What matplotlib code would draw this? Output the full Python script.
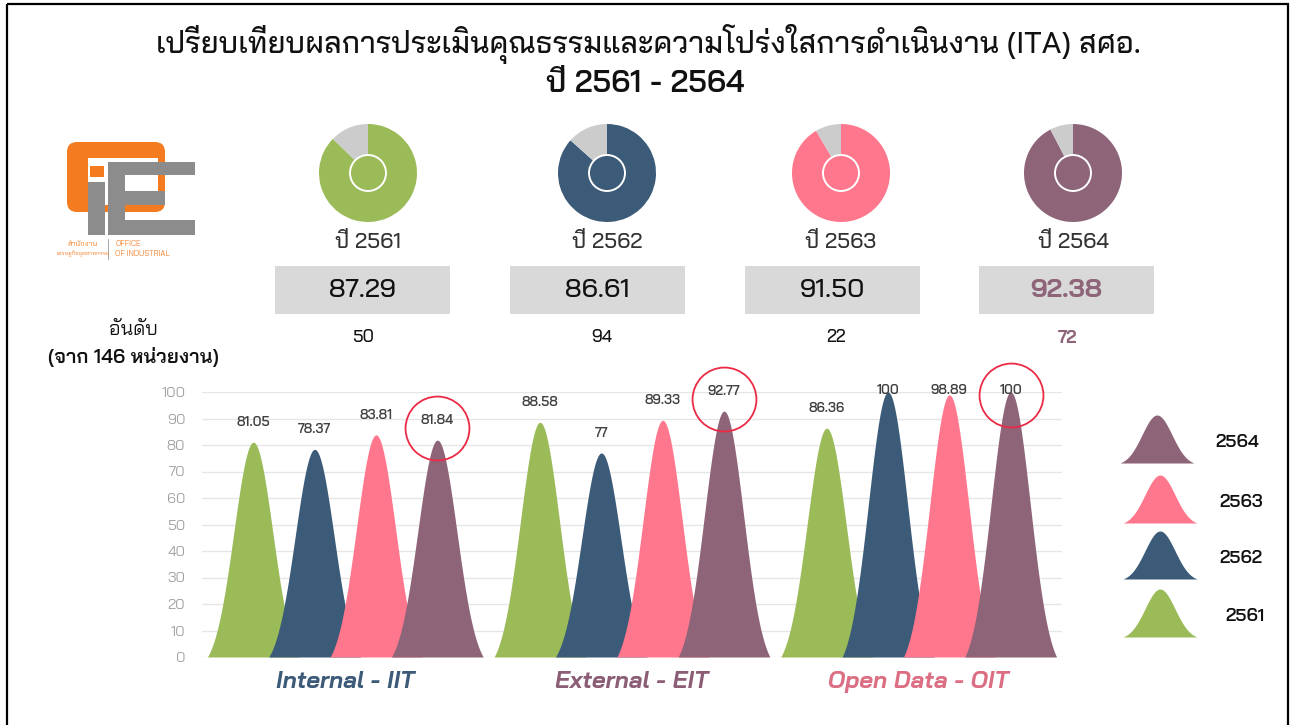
import numpy as np
import matplotlib
matplotlib.use('Agg')
import matplotlib.pyplot as plt
from matplotlib.patches import Rectangle, FancyBboxPatch, Circle

plt.rcParams['font.family'] = ['Bai Jamjuree', 'DejaVu Sans']

# ---- data ----
years = ['2561', '2562', '2563', '2564']
total_score = [87.29, 86.61, 91.50, 92.38]
rank = [50, 94, 22, 72]
categories = ['Internal - IIT', 'External - EIT', 'Open Data - OIT']
score_2561 = [81.05, 88.58, 86.36]
score_2562 = [78.37, 77, 100]
score_2563 = [83.81, 89.33, 98.89]
score_2564 = [81.84, 92.77, 100]
scores = [score_2561, score_2562, score_2563, score_2564]

colors = ['#9BBB59', '#3B5B78', '#FF778C', '#8E6479']
cat_colors = ['#3D5A78', '#8B5E76', '#DC6E84']
grey = '#CCCCCC'

W, H = 1291, 725
fig = plt.figure(figsize=(W / 100, H / 100), dpi=100)


def px_axes(x0, y0, x1, y1):
    # axes placed by pixel box (y measured from the top)
    return fig.add_axes([x0 / W, 1 - y1 / H, (x1 - x0) / W, (y1 - y0) / H])


bg = px_axes(0, 0, W, H)
bg.set_xlim(0, W)
bg.set_ylim(H, 0)
bg.axis('off')

# frame round the picture
bg.add_patch(Rectangle((7, 4), 1281, 740, fill=False, ec='black', lw=1.6))

# title
bg.text(648, 44, 'เปรียบเทียบผลการประเมินคุณธรรมและความโปร่งใสการดำเนินงาน (ITA) สศอ.',
        ha='center', va='center', fontsize=21.5, weight='medium', color='#111111')
bg.text(645, 84, 'ปี 2561 - 2564', ha='center', va='center', fontsize=22,
        weight='semibold', color='#111111')

# logo (rough)
orange = '#F47B20'
lgrey = '#8C8C8C'
bg.add_patch(FancyBboxPatch((67, 142), 98, 70, boxstyle='round,pad=0,rounding_size=10',
                            fc=orange, ec='none'))
bg.add_patch(Rectangle((88, 158), 70, 47, fc='white', ec='none'))
bg.add_patch(Rectangle((90, 166), 14, 11, fc=orange, ec='none'))
bg.add_patch(Rectangle((88, 182), 17, 53, fc=lgrey, ec='none'))
bg.add_patch(Rectangle((108, 162), 17, 73, fc=lgrey, ec='none'))
bg.add_patch(Rectangle((108, 162), 87, 13, fc=lgrey, ec='none'))
bg.add_patch(Rectangle((125, 191), 40, 14, fc=lgrey, ec='none'))
bg.add_patch(Rectangle((108, 220), 87, 15, fc=lgrey, ec='none'))
bg.text(83, 244, 'สำนักงาน', ha='center', va='center', fontsize=5.5, color=orange)
bg.text(83, 254, 'เศรษฐกิจอุตสาหกรรม', ha='center', va='center', fontsize=4.2, color=orange)
bg.plot([108, 108], [239, 259], color='#999999', lw=0.6)
bg.text(115, 244, 'OFFICE', ha='left', va='center', fontsize=5.5, color=orange)
bg.text(115, 254, 'OF INDUSTRIAL', ha='left', va='center', fontsize=5.5, color=orange)

# rank caption
bg.text(133, 330, 'อันดับ', ha='center', va='center', fontsize=14, color='#111111')
bg.text(133, 357, '(จาก 146 หน่วยงาน)', ha='center', va='center', fontsize=14,
        weight='semibold', color='#111111')

# donuts, year, score boxes, rank
donut_x = [368, 607, 841, 1073]
box_x = [275, 510, 745, 979]
for i, yr in enumerate(years):
    cx = donut_x[i]
    dax = px_axes(cx - 50, 123, cx + 50, 223)
    dax.pie([total_score[i], 100 - total_score[i]], colors=[colors[i], grey],
            startangle=90, counterclock=False, radius=0.98,
            wedgeprops=dict(linewidth=0))
    dax.add_patch(Circle((0, 0), 0.36, fc=colors[i], ec='white', lw=1.4, zorder=5))
    dax.set_xlim(-1, 1)
    dax.set_ylim(-1, 1)
    dax.set_aspect('equal')
    dax.axis('off')

    bg.text(cx, 242, 'ปี ' + yr, ha='center', va='center', fontsize=15.5,
            weight='medium', color='#333333')
    bg.add_patch(Rectangle((box_x[i], 266), 175, 48, fc='#D9D9D9', ec='none'))
    last = i == len(years) - 1
    bg.text(box_x[i] + 87.5, 290, f'{total_score[i]:.2f}', ha='center', va='center',
            fontsize=19, weight='bold' if last else 'medium',
            color=colors[3] if last else '#111111')
    bg.text(cx - 5, 338, str(rank[i]), ha='center', va='center', fontsize=12.5,
            weight='bold' if last else 'medium',
            color=colors[3] if last else '#111111')

# ---- peak chart ----
ax = px_axes(202, 392, 1062, 657)
ax.set_xlim(-0.5, 2.5)
ax.set_ylim(0, 100)
for s in ax.spines.values():
    s.set_visible(False)
ax.set_yticks(np.arange(0, 101, 10))
ax.yaxis.grid(True, color='#E6E6E6', lw=1)
ax.set_axisbelow(True)
ax.tick_params(axis='y', length=0, pad=12, labelsize=10.5, labelcolor='#A0A0A0')
ax.set_xticks([])

step = 0.214
offsets = (np.arange(4) - 1.5) * step
half = 0.16
sig = 0.068
u = np.linspace(-half, half, 301)
e0 = np.exp(-half ** 2 / (2 * sig ** 2))
shape = (np.exp(-u ** 2 / (2 * sig ** 2)) - e0) / (1 - e0)

cat_x = np.arange(len(categories))
for j in range(len(categories)):
    for k in range(len(years)):
        v = scores[k][j]
        x0 = cat_x[j] + offsets[k]
        ax.fill_between(x0 + u, 0, v * shape, color=colors[k], lw=0, zorder=2 + k)
        ax.text(x0, min(v + 7.5, 100.5), f'{v:g}', ha='center', va='center',
                fontsize=9.5, weight='semibold', color='#404040', zorder=10,
                clip_on=False)
    # highlight the latest year
    v = scores[3][j]
    ax.plot(cat_x[j] + offsets[3], min(v + 4.5, 99), marker='o', ms=46, mfc='none',
            mec='#EC2A45', mew=1.3, clip_on=False, zorder=11)
    ax.text(cat_x[j], -9.5, categories[j], ha='center', va='center', fontsize=17,
            weight='bold', style='italic', color=cat_colors[j], clip_on=False)

# ---- legend ----
lax = px_axes(1100, 400, 1290, 660)
lax.set_xlim(1100, 1290)
lax.set_ylim(660, 400)
lax.axis('off')
lu = np.linspace(-37, 37, 201)
le0 = np.exp(-37 ** 2 / (2 * 15 ** 2))
lshape = (np.exp(-lu ** 2 / (2 * 15 ** 2)) - le0) / (1 - le0)
leg_base = [637, 579, 523, 463]
leg_cx = [1160, 1160, 1160, 1157]
leg_tx = [1225, 1219, 1219, 1215]
for k, yr in enumerate(years):
    lax.fill_between(leg_cx[k] + lu, leg_base[k], leg_base[k] - 48 * lshape,
                     color=colors[k], lw=0)
    lax.text(leg_tx[k], leg_base[k] - 20, yr, ha='left', va='center', fontsize=13,
             weight='semibold', color='#111111')

fig.savefig('out.png', dpi=100)
